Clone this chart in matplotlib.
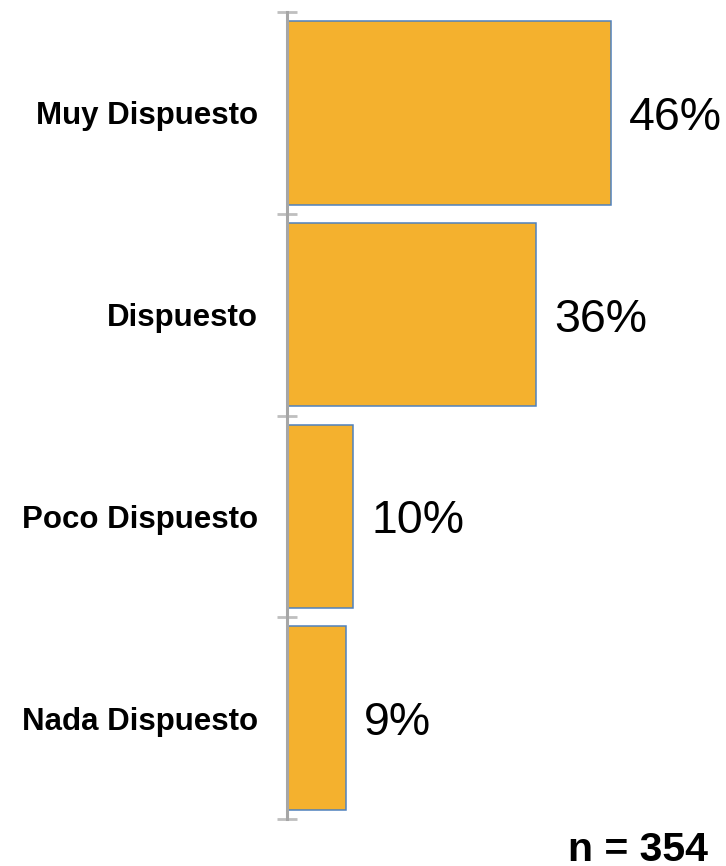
import matplotlib
matplotlib.use("Agg")
import matplotlib.pyplot as plt
import numpy as np

categories = ["Muy Dispuesto", "Dispuesto", "Poco Dispuesto", "Nada Dispuesto"]
values = [46.0, 35.4, 9.4, 8.4]
value_labels = ["46%", "36%", "10%", "9%"]
note = "n = 354"

plt.rcParams['font.family'] = ['Liberation Sans', 'DejaVu Sans']

W, H = 726, 866
fig = plt.figure(figsize=(W / 100, H / 100), dpi=100)
left, right = 287, 700
top, bottom = 12, 819
ax = fig.add_axes([left / W, 1 - bottom / H, (right - left) / W, (bottom - top) / H])

n = len(categories)
y = np.arange(n)
ax.barh(y, values, height=0.91, color="#F4B12E", edgecolor="#4F81BD", linewidth=1.1, zorder=2)
ax.set_ylim(n - 0.5, -0.5)
ax.set_xlim(0, (right - left) / 7.04)

for s in ["top", "right", "bottom"]:
    ax.spines[s].set_visible(False)
ax.spines["left"].set_color("#A6A6A6")
ax.spines["left"].set_linewidth(2.2)
ax.spines["left"].set_zorder(3)

ax.set_xticks([])
ax.set_yticks(np.arange(n + 1) - 0.5)
ax.set_yticklabels([])
ax.tick_params(axis="y", direction="inout", length=14, width=2, color="#BFBFBF")

for yi, cat in zip(y, categories):
    ax.text(-29 / 7.04, yi, cat, ha="right", va="center_baseline", fontsize=22.5, fontweight="bold")

for yi, v, lab in zip(y, values, value_labels):
    ax.text(v + 18 / 7.04, yi, lab, ha="left", va="center_baseline", fontsize=33.5)

fig.text(708 / W, 1 - 861 / H, note, ha="right", va="baseline", fontsize=29.5, fontweight="bold")

fig.savefig("out.png", dpi=100)
